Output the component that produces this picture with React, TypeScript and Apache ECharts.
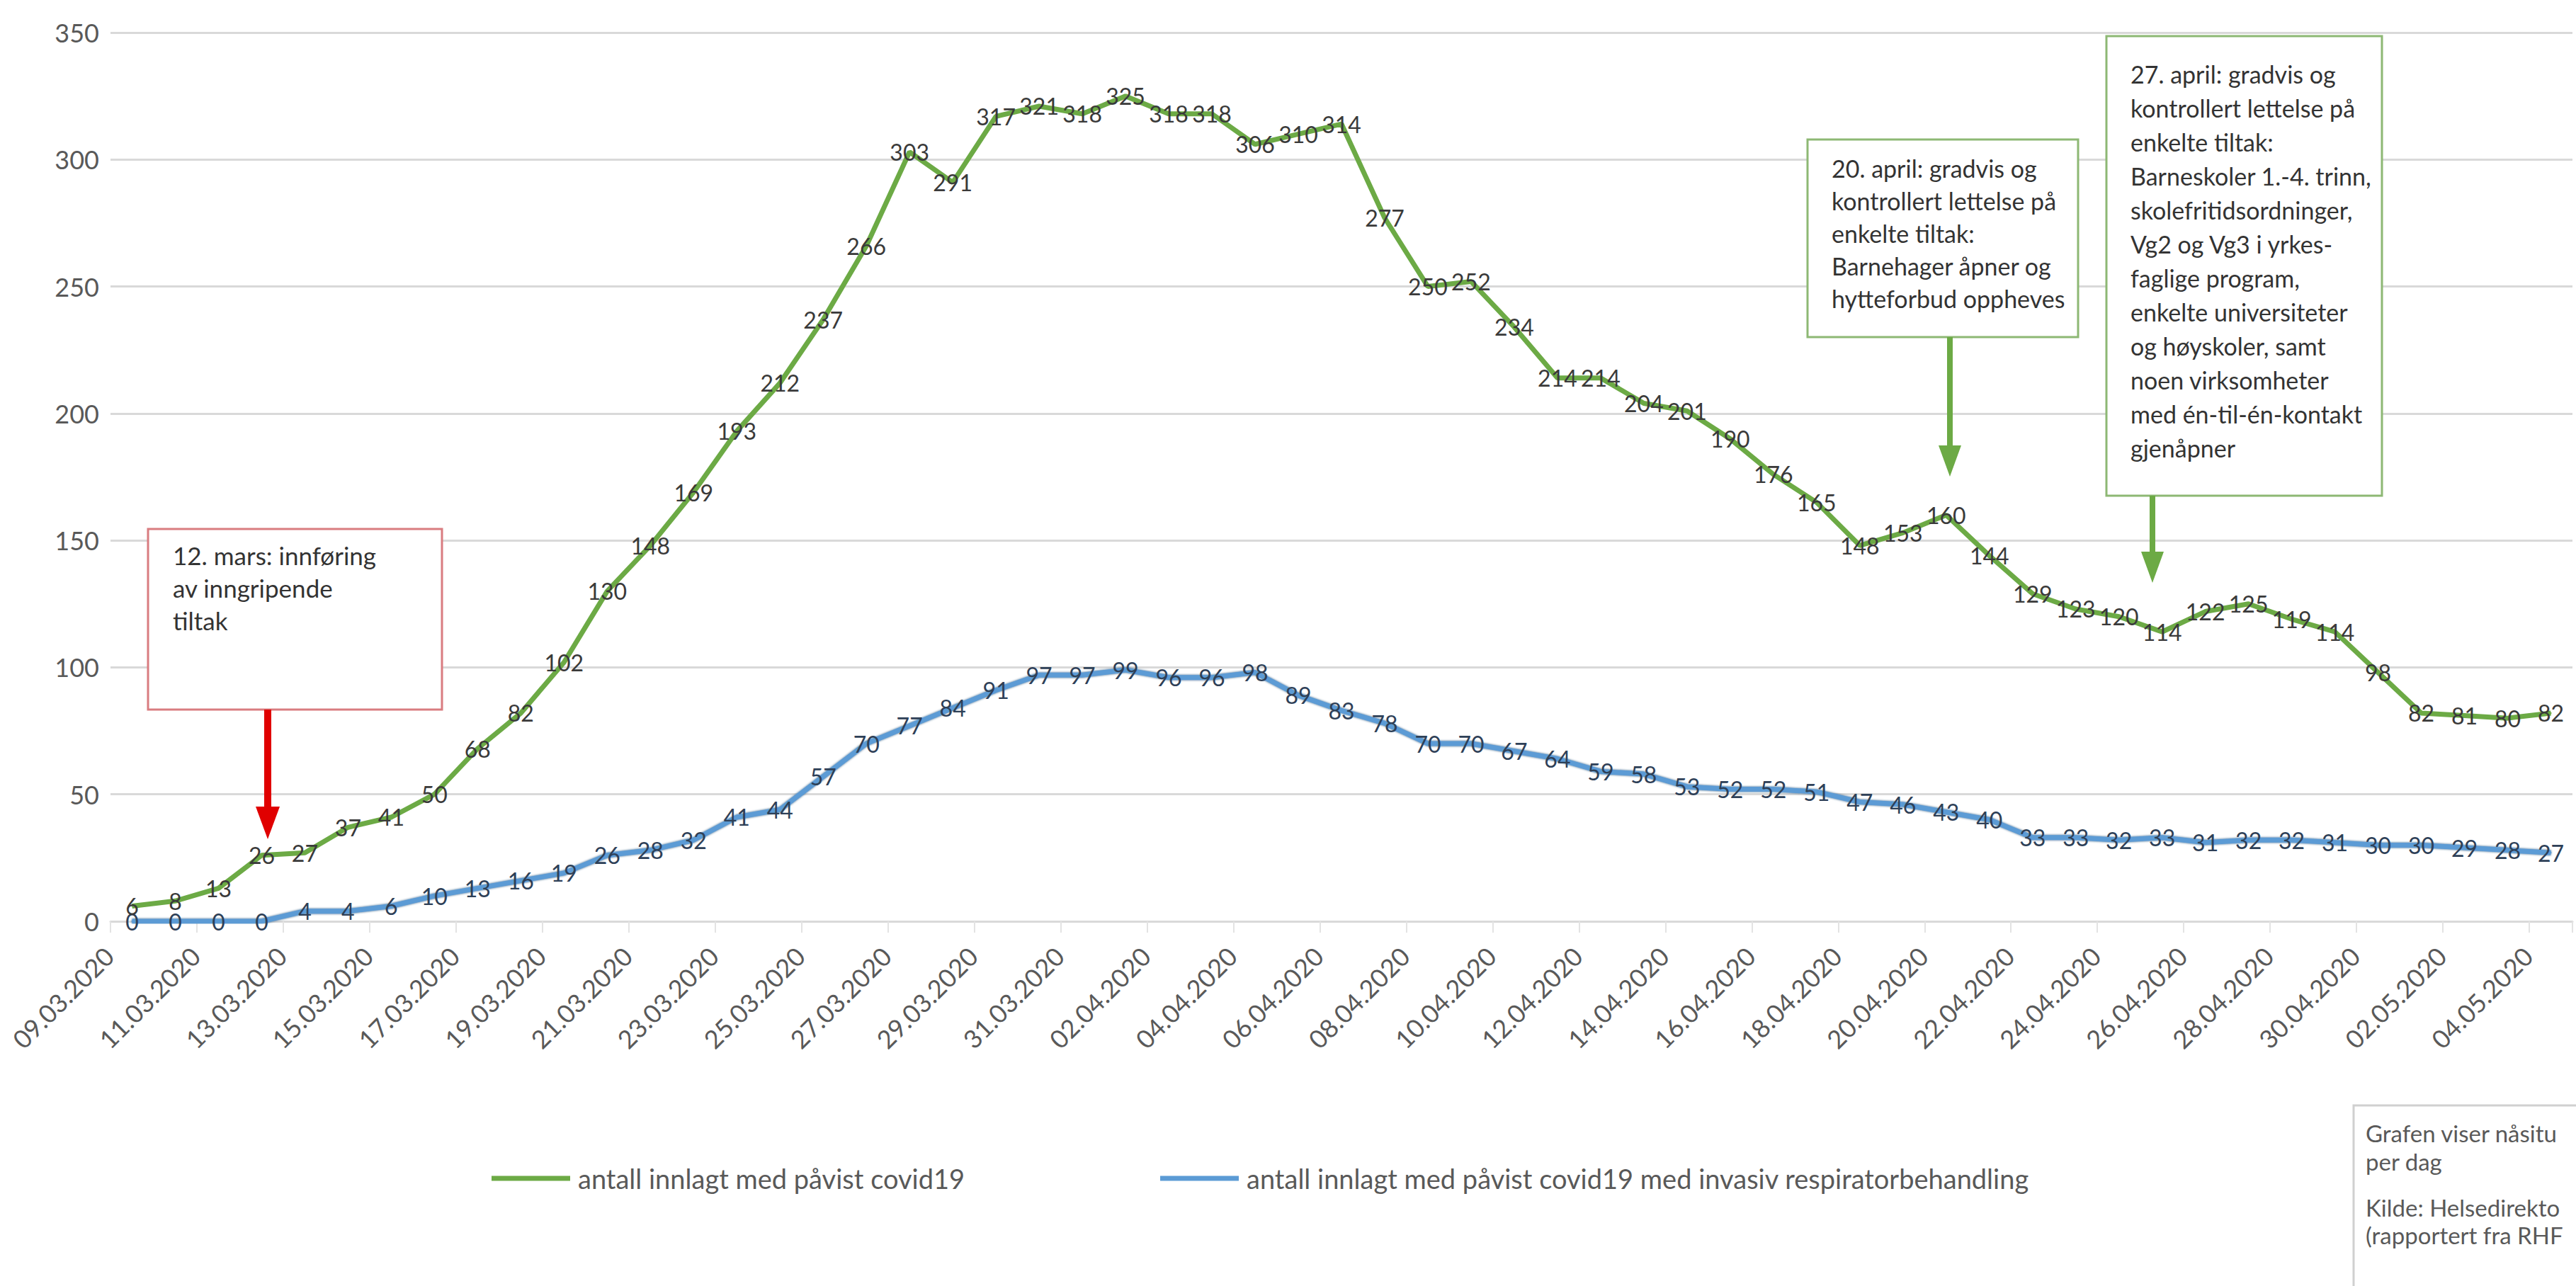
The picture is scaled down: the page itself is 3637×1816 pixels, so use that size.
import React, { useEffect, useRef } from "react";
import * as echarts from "echarts";

const dates = [
  "09.03.2020", "10.03.2020", "11.03.2020", "12.03.2020", "13.03.2020", "14.03.2020", "15.03.2020",
  "16.03.2020", "17.03.2020", "18.03.2020", "19.03.2020", "20.03.2020", "21.03.2020", "22.03.2020",
  "23.03.2020", "24.03.2020", "25.03.2020", "26.03.2020", "27.03.2020", "28.03.2020", "29.03.2020",
  "30.03.2020", "31.03.2020", "01.04.2020", "02.04.2020", "03.04.2020", "04.04.2020", "05.04.2020",
  "06.04.2020", "07.04.2020", "08.04.2020", "09.04.2020", "10.04.2020", "11.04.2020", "12.04.2020",
  "13.04.2020", "14.04.2020", "15.04.2020", "16.04.2020", "17.04.2020", "18.04.2020", "19.04.2020",
  "20.04.2020", "21.04.2020", "22.04.2020", "23.04.2020", "24.04.2020", "25.04.2020", "26.04.2020",
  "27.04.2020", "28.04.2020", "29.04.2020", "30.04.2020", "01.05.2020", "02.05.2020", "03.05.2020",
  "04.05.2020",
];

const innlagt = [
  6, 8, 13, 26, 27, 37, 41, 50, 68, 82, 102, 130, 148, 169, 193, 212, 237, 266, 303, 291, 317,
  321, 318, 325, 318, 318, 306, 310, 314, 277, 250, 252, 234, 214, 214, 204, 201, 190, 176, 165,
  148, 153, 160, 144, 129, 123, 120, 114, 122, 125, 119, 114, 98, 82, 81, 80, 82,
];

const respirator = [
  0, 0, 0, 0, 4, 4, 6, 10, 13, 16, 19, 26, 28, 32, 41, 44, 57, 70, 77, 84, 91, 97, 97, 99, 96, 96,
  98, 89, 83, 78, 70, 70, 67, 64, 59, 58, 53, 52, 52, 51, 47, 46, 43, 40, 33, 33, 32, 33, 31, 32,
  32, 31, 30, 30, 29, 28, 27,
];

const yMin = 0;
const yMax = 350;
const yStep = 50;

const seriesNames = [
  "antall innlagt med påvist covid19",
  "antall innlagt med påvist covid19 med invasiv respiratorbehandling",
];

const noteMars12 = ["12. mars: innføring", "av inngripende", "tiltak"];
const noteApril20 = [
  "20. april: gradvis og",
  "kontrollert lettelse på",
  "enkelte tiltak:",
  "Barnehager åpner og",
  "hytteforbud oppheves",
];
const noteApril27 = [
  "27. april: gradvis og",
  "kontrollert lettelse på",
  "enkelte tiltak:",
  "Barneskoler 1.-4. trinn,",
  "skolefritidsordninger,",
  "Vg2 og Vg3 i yrkes-",
  "faglige program,",
  "enkelte universiteter",
  "og høyskoler, samt",
  "noen virksomheter",
  "med én-til-én-kontakt",
  "gjenåpner",
];
const sourceNote = ["Grafen viser nåsitu", "per dag", "Kilde: Helsedirekto", "(rapportert fra RHF"];

const FONT = "Lato, 'Noto Sans', sans-serif";
const GREEN = "#6CAA45";
const BLUE = "#5B9BD5";

export default function App() {
  const ref = useRef<HTMLDivElement>(null);

  useEffect(() => {
    if (!ref.current) return;
    const chart = echarts.init(ref.current, undefined, { renderer: "svg" });

    const arrow = (x: number, y1: number, y2: number, color: string, shaft: number, headW: number, headH: number) => [
      {
        type: "line",
        shape: { x1: x, y1, x2: x, y2: y2 - headH + 4 },
        style: { stroke: color, lineWidth: shaft },
        z: 10,
      },
      {
        type: "polygon",
        shape: { points: [[x - headW / 2, y2 - headH], [x + headW / 2, y2 - headH], [x, y2]] },
        style: { fill: color },
        z: 10,
      },
    ];

    const srcText = (i: number, y: number) => ({
      type: "text",
      x: 3340,
      y,
      style: { text: sourceNote[i], font: `33px ${FONT}`, fill: "#595959", verticalAlign: "middle" },
      z: 11,
    });

    const option: any = {
      animation: false,
      backgroundColor: "#ffffff",
      textStyle: { fontFamily: FONT },
      grid: { left: 156, right: 5, top: 46, bottom: 515, containLabel: false },
      legend: {
        left: 689,
        top: 1640,
        icon: "rect",
        itemWidth: 111,
        itemHeight: 7,
        itemGap: 276,
        textStyle: { fontSize: 38, color: "#595959", fontFamily: FONT, padding: [0, 0, 0, 6] },
        data: seriesNames,
      },
      xAxis: {
        type: "category",
        data: dates,
        boundaryGap: true,
        axisLine: { lineStyle: { color: "#D9D9D9", width: 3 } },
        axisTick: { show: true, interval: 1, length: 16, lineStyle: { color: "#E3E3E3", width: 2 } },
        axisLabel: {
          interval: 1,
          rotate: 45,
          fontSize: 36,
          color: "#595959",
          margin: 10,
          padding: [0, 46, 0, 0],
          fontFamily: FONT,
        },
        splitLine: { show: false },
      },
      yAxis: {
        type: "value",
        min: yMin,
        max: yMax,
        interval: yStep,
        axisLine: { show: false },
        axisTick: { show: false },
        axisLabel: { fontSize: 36, color: "#595959", margin: 16, fontFamily: FONT },
        splitLine: { lineStyle: { color: "#D9D9D9", width: 3 } },
      },
      series: [
        {
          name: seriesNames[1],
          type: "line",
          data: respirator,
          symbol: "circle",
          symbolSize: 2,
          itemStyle: { color: BLUE },
          lineStyle: { color: BLUE, width: 7, shadowColor: "rgba(31,78,121,0.9)", shadowBlur: 3 },
          label: { show: true, position: "inside", fontSize: 32, color: "#2E4057", fontFamily: FONT },
          z: 3,
        },
        {
          name: seriesNames[0],
          type: "line",
          data: innlagt,
          symbol: "circle",
          symbolSize: 2,
          itemStyle: { color: GREEN },
          lineStyle: { color: GREEN, width: 7 },
          label: { show: true, position: "inside", fontSize: 32, color: "#3A3A3A", fontFamily: FONT },
          z: 4,
        },
      ],
      graphic: [
        {
          type: "rect",
          shape: { x: 209, y: 747, width: 415, height: 255 },
          style: { fill: "#ffffff", stroke: "#D97C80", lineWidth: 3 },
          z: 9,
        },
        {
          type: "text",
          x: 244,
          y: 761,
          style: { text: noteMars12.join("\n"), font: `35px ${FONT}`, fill: "#333333", lineHeight: 46 },
          z: 11,
        },
        ...arrow(378, 1002, 1185, "#E00000", 10, 34, 46),
        {
          type: "rect",
          shape: { x: 2552, y: 197, width: 382, height: 279 },
          style: { fill: "#ffffff", stroke: "#8DB874", lineWidth: 3 },
          z: 9,
        },
        {
          type: "text",
          x: 2586,
          y: 214,
          style: { text: noteApril20.join("\n"), font: `34px ${FONT}`, fill: "#333333", lineHeight: 46 },
          z: 11,
        },
        ...arrow(2753, 476, 673, GREEN, 8, 32, 44),
        {
          type: "rect",
          shape: { x: 2974, y: 51, width: 389, height: 649 },
          style: { fill: "#ffffff", stroke: "#8DB874", lineWidth: 3 },
          z: 9,
        },
        {
          type: "text",
          x: 3008,
          y: 80,
          style: { text: noteApril27.join("\n"), font: `34px ${FONT}`, fill: "#333333", lineHeight: 48 },
          z: 11,
        },
        ...arrow(3039, 700, 823, GREEN, 8, 32, 44),
        {
          type: "rect",
          shape: { x: 3323, y: 1561, width: 400, height: 300 },
          style: { fill: "#ffffff", stroke: "#D0D0D0", lineWidth: 3 },
          z: 9,
        },
        srcText(0, 1600),
        srcText(1, 1640),
        srcText(2, 1705),
        srcText(3, 1744),
      ],
    };

    chart.setOption(option);
    return () => chart.dispose();
  }, []);

  return (
    <div
      ref={ref}
      style={{ position: "absolute", left: 0, top: 0, width: 3637, height: 1816, background: "#fff" }}
    />
  );
}
